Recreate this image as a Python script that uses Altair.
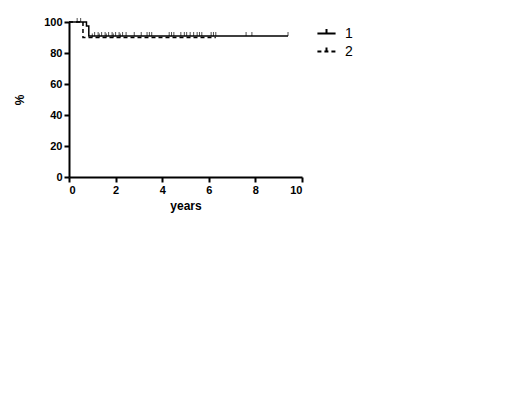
import altair as alt
import pandas as pd

# Survival step curves
t1 = [0, 0.75, 0.85, 9.4]
s1 = [100, 97.5, 91, 91]
t2 = [0, 0.6, 6.3]
s2 = [100, 90, 90]

# Censor marks
c1_t = [1.1, 1.25, 1.4, 1.55, 1.7, 1.85, 2.0, 2.15, 2.3, 2.45, 2.8, 3.1, 3.35, 3.45, 3.55,
        4.3, 4.4, 4.5, 4.8, 4.95, 5.05, 5.2, 5.35, 5.5, 5.6, 5.7, 6.1, 6.2, 6.3, 7.6, 7.85, 9.4]
c1_s = [91] * len(c1_t)
c2_t = [0.35, 0.5, 1.0, 1.3, 1.6, 1.9, 2.2]
c2_s = [100, 100, 90, 90, 90, 90, 90]

groups = ["1", "2"]
x_ticks = [0, 2, 4, 6, 8, 10]
y_ticks = [0, 20, 40, 60, 80, 100]

lines = pd.DataFrame({
    "years": t1 + t2,
    "pct": s1 + s2,
    "group": [groups[0]] * len(t1) + [groups[1]] * len(t2),
})
cens = pd.DataFrame({
    "years": c1_t + c2_t,
    "pct": c1_s + c2_s,
    "group": [groups[0]] * len(c1_t) + [groups[1]] * len(c2_t),
})

xs = alt.X("years:Q", scale=alt.Scale(domain=[0, 10], nice=False),
           axis=alt.Axis(values=x_ticks, title="years", grid=False,
                         domainWidth=2, tickWidth=2, tickSize=5, labelPadding=2,
                         titlePadding=5, labelOverlap=False))
ys = alt.Y("pct:Q", scale=alt.Scale(domain=[0, 100], nice=False),
           axis=alt.Axis(values=y_ticks, title="%", grid=False,
                         domainWidth=2, tickWidth=2, tickSize=5, labelPadding=2,
                         titlePadding=17, labelOverlap=False))

color = alt.Color("group:N", scale=alt.Scale(domain=groups, range=["black", "black"]),
                  legend=alt.Legend(title=None, orient="none", legendX=247, legendY=1,
                                    symbolType="M-1,0L1,0M0,0L0,-0.5",
                                    symbolSize=330, symbolStrokeWidth=2,
                                    labelFont="Liberation Sans", labelFontSize=14,
                                    labelColor="black",
                                    labelOffset=8, rowPadding=0))
dash = alt.StrokeDash("group:N", scale=alt.Scale(domain=groups, range=[[1, 0], [4, 3]]),
                      legend=None)

line = alt.Chart(lines).mark_line(interpolate="step-after", strokeWidth=1.5).encode(
    x=xs, y=ys, color=color, strokeDash=dash, detail="group:N")

ticks = alt.Chart(cens).mark_tick(orient="vertical", size=4, thickness=1, yOffset=-2,
                                  color="black").encode(x=xs, y=ys)

chart = alt.layer(line, ticks).properties(
    width=233, height=155,
    padding={"left": 5, "top": 8, "right": 5, "bottom": 5},
).configure_view(stroke=None).configure_axis(
    labelFont="Liberation Sans", labelFontWeight="bold", labelFontSize=11,
    labelColor="black", titleFont="Liberation Sans", titleFontWeight="bold",
    titleFontSize=12, titleColor="black", domainColor="black", tickColor="black",
    labelOverlap=False,
).configure_axisY(titleAngle=-90)

chart.save("out.html", embed_options={"renderer": "svg", "actions": False})
